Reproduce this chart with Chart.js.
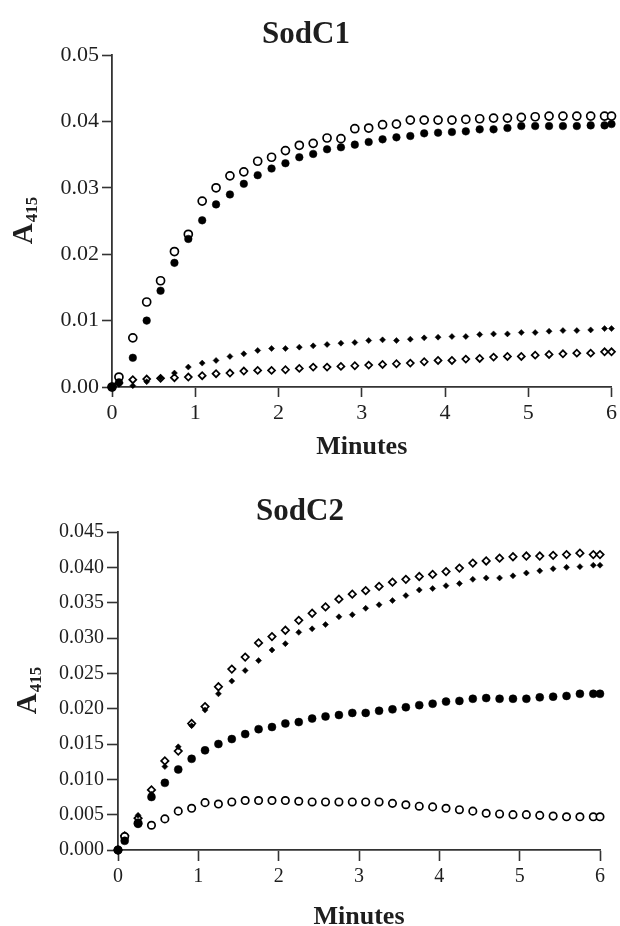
<!DOCTYPE html>
<html>
<head>
<meta charset="utf-8">
<script src="https://cdn.jsdelivr.net/npm/chart.js@4/dist/chart.umd.min.js"></script>
<style>
  html, body { margin: 0; padding: 0; background: #fff; }
  canvas { display: block; }
</style>
</head>
<body>
<canvas id="sodc1" width="620" height="463"></canvas>
<canvas id="sodc2" width="620" height="463"></canvas>
<script>
// ── Data (time in seconds, absorbance at 415 nm) ──────────────────
const timesSec = [0, 5, 15, 25, 35, 45, 55, 65, 75, 85, 95, 105, 115, 125, 135, 145, 155, 165, 175,
  185, 195, 205, 215, 225, 235, 245, 255, 265, 275, 285, 295, 305, 315, 325, 335, 345, 355, 360];

const xTicks   = [0, 1, 2, 3, 4, 5, 6];
const yTicksC1 = [0, 0.01, 0.02, 0.03, 0.04, 0.05];
const yTicksC2 = [0, 0.005, 0.010, 0.015, 0.020, 0.025, 0.030, 0.035, 0.040, 0.045];

// SodC1
const c1OpenCircle = [0, 0.0015, 0.0074, 0.0128, 0.0160, 0.0204, 0.0230, 0.0280, 0.0300, 0.0318, 0.0324,
  0.0340, 0.0346, 0.0356, 0.0364, 0.0367, 0.0375, 0.0374, 0.0389, 0.0390, 0.0395, 0.0396, 0.0402, 0.0402,
  0.0402, 0.0402, 0.0403, 0.0404, 0.0405, 0.0405, 0.0406, 0.0407, 0.0408, 0.0408, 0.0408, 0.0408, 0.0408, 0.0408];
const c1FilledCircle = [0, 0.0007, 0.0044, 0.0100, 0.0145, 0.0187, 0.0223, 0.0251, 0.0275, 0.0290, 0.0306,
  0.0319, 0.0329, 0.0337, 0.0346, 0.0351, 0.0358, 0.0361, 0.0365, 0.0369, 0.0373, 0.0376, 0.0378, 0.0382,
  0.0383, 0.0384, 0.0385, 0.0388, 0.0388, 0.0390, 0.0393, 0.0393, 0.0393, 0.0393, 0.0393, 0.0394, 0.0394, 0.0396];
const c1FilledDiamond = [0, 0.0005, 0.0002, 0.0008, 0.0014, 0.0021, 0.0030, 0.0036, 0.0040, 0.0046, 0.0050,
  0.0055, 0.0058, 0.0058, 0.0060, 0.0062, 0.0064, 0.0066, 0.0067, 0.0070, 0.0071, 0.0070, 0.0072, 0.0074,
  0.0075, 0.0076, 0.0076, 0.0079, 0.0080, 0.0080, 0.0082, 0.0082, 0.0084, 0.0085, 0.0085, 0.0086, 0.0088, 0.0088];
const c1OpenDiamond = [0, 0.0006, 0.0011, 0.0012, 0.0013, 0.0014, 0.0015, 0.0017, 0.0020, 0.0021, 0.0024,
  0.0025, 0.0025, 0.0026, 0.0028, 0.0030, 0.0030, 0.0031, 0.0032, 0.0033, 0.0034, 0.0035, 0.0036, 0.0038,
  0.0040, 0.0040, 0.0042, 0.0043, 0.0045, 0.0046, 0.0046, 0.0048, 0.0049, 0.0050, 0.0051, 0.0051, 0.0053, 0.0053];

// SodC2
const c2OpenDiamond = [0, 0.0020, 0.0045, 0.0085, 0.0126, 0.0140, 0.0179, 0.0203, 0.0231, 0.0256, 0.0273,
  0.0293, 0.0302, 0.0311, 0.0325, 0.0335, 0.0344, 0.0355, 0.0362, 0.0367, 0.0373, 0.0379, 0.0383, 0.0387,
  0.0390, 0.0394, 0.0399, 0.0406, 0.0409, 0.0413, 0.0415, 0.0416, 0.0416, 0.0417, 0.0418, 0.0420, 0.0418, 0.0418];
const c2FilledDiamond = [0, 0.0015, 0.0049, 0.0079, 0.0118, 0.0146, 0.0176, 0.0198, 0.0221, 0.0239, 0.0254,
  0.0268, 0.0283, 0.0292, 0.0308, 0.0313, 0.0319, 0.0330, 0.0333, 0.0342, 0.0347, 0.0353, 0.0360, 0.0368,
  0.0370, 0.0374, 0.0377, 0.0383, 0.0385, 0.0385, 0.0388, 0.0392, 0.0395, 0.0398, 0.0400, 0.0401, 0.0403, 0.0403];
const c2FilledCircle = [0, 0.0013, 0.0037, 0.0075, 0.0095, 0.0114, 0.0129, 0.0141, 0.0150, 0.0157, 0.0164,
  0.0171, 0.0174, 0.0179, 0.0181, 0.0186, 0.0189, 0.0191, 0.0194, 0.0194, 0.0197, 0.0199, 0.0202, 0.0205,
  0.0207, 0.0210, 0.0211, 0.0214, 0.0215, 0.0214, 0.0214, 0.0214, 0.0216, 0.0217, 0.0218, 0.0221, 0.0221, 0.0221];
const c2OpenCircle = [0, 0.0019, 0.0038, 0.0035, 0.0044, 0.0055, 0.0059, 0.0067, 0.0065, 0.0068, 0.0070,
  0.0070, 0.0070, 0.0070, 0.0069, 0.0068, 0.0068, 0.0068, 0.0068, 0.0068, 0.0068, 0.0066, 0.0064, 0.0062,
  0.0061, 0.0059, 0.0057, 0.0055, 0.0052, 0.0051, 0.0050, 0.0050, 0.0049, 0.0048, 0.0047, 0.0047, 0.0047, 0.0047];

// ── Look ──────────────────────────────────────────────────────────
const SERIF = "'Liberation Serif', 'Times New Roman', serif";
const INK   = "#1e1e1e";
const AXIS  = "#333";

Chart.defaults.font.family = SERIF;
Chart.defaults.color = INK;

const minutes = timesSec.map(s => s / 60);

function points(values) {
  return minutes.map((m, i) => ({ x: m, y: values[i] }));
}

function marker(values, style, filled, radius) {
  return {
    data: points(values),
    pointStyle: style,
    pointRadius: radius,
    pointHoverRadius: radius,
    pointBackgroundColor: filled ? "#000" : "#fff",
    pointBorderColor: "#000",
    pointBorderWidth: filled ? 0.5 : 1.7,
    showLine: false,
    clip: false,
  };
}

// ── A415 axis label (A with subscript) ────────────────────────────
const subscriptLabel = {
  id: "subscriptLabel",
  afterDraw(chart, args, opts) {
    const { ctx, chartArea } = chart;
    const cy = (chartArea.top + chartArea.bottom) / 2;
    ctx.save();
    ctx.translate(opts.x, cy);
    ctx.rotate(-Math.PI / 2);
    ctx.fillStyle = INK;
    ctx.textBaseline = "alphabetic";
    ctx.font = `bold ${opts.size}px ${SERIF}`;
    const wA = ctx.measureText("A").width;
    ctx.font = `bold ${opts.subSize}px ${SERIF}`;
    const wSub = ctx.measureText("415").width;
    const start = -(wA + wSub) / 2;
    ctx.font = `bold ${opts.size}px ${SERIF}`;
    ctx.fillText("A", start, opts.size * 0.33);
    ctx.font = `bold ${opts.subSize}px ${SERIF}`;
    ctx.fillText("415", start + wA + 1, opts.size * 0.33 + opts.subDrop);
    ctx.restore();
  }
};

// ── One panel ─────────────────────────────────────────────────────
function panel(id, cfg) {
  new Chart(document.getElementById(id), {
    type: "scatter",
    data: { datasets: cfg.datasets },
    plugins: [subscriptLabel],
    options: {
      responsive: false,
      animation: false,
      events: [],
      layout: { padding: { top: 0, left: 0, right: cfg.right, bottom: 0 } },
      plugins: {
        legend: { display: false },
        tooltip: { enabled: false },
        title: {
          display: true,
          text: cfg.title,
          color: INK,
          font: { size: 31, weight: "bold", family: SERIF, lineHeight: 1 },
          padding: { top: cfg.titleTop, bottom: cfg.titleBottom },
        },
        subscriptLabel: { x: cfg.yLabelX, size: 29, subSize: 17, subDrop: 5 },
      },
      scales: {
        x: {
          type: "linear",
          min: 0, max: 6,
          afterBuildTicks: s => { s.ticks = xTicks.map(v => ({ value: v })); },
          afterFit: s => { s.height = 76; },
          ticks: {
            color: INK,
            font: { size: cfg.tickSize, family: SERIF },
            padding: cfg.xPad,
            maxRotation: 0,
            callback: v => String(v),
          },
          grid: {
            display: true, drawOnChartArea: false, drawTicks: true,
            tickLength: cfg.tickLen, tickWidth: 1.6, tickColor: AXIS,
          },
          border: { display: true, color: AXIS, width: 1.8 },
          title: {
            display: true,
            text: "Minutes",
            color: INK,
            font: { size: 26, weight: "bold", family: SERIF, lineHeight: 0.8 },
            padding: { top: 0, bottom: cfg.minutesPad },
          },
        },
        y: {
          type: "linear",
          min: 0, max: cfg.yMax,
          afterBuildTicks: s => { s.ticks = cfg.yTicks.map(v => ({ value: v })); },
          afterFit: s => { s.width = cfg.left; },
          ticks: {
            color: INK,
            font: { size: cfg.tickSize, family: SERIF },
            padding: 3,
            callback: v => v.toFixed(cfg.decimals),
          },
          grid: {
            display: true, drawOnChartArea: false, drawTicks: true,
            tickLength: cfg.tickLen, tickWidth: 1.6, tickColor: AXIS,
          },
          border: { display: true, color: AXIS, width: 1.8 },
        },
      },
    },
  });
}

panel("sodc1", {
  title: "SodC1",
  titleTop: 19, titleBottom: 5,
  left: 112, right: 8,
  yMax: 0.05, yTicks: yTicksC1, decimals: 2,
  tickSize: 22, tickLen: 10, xPad: 3,
  minutesPad: 5,
  yLabelX: 22,
  datasets: [
    marker(c1FilledCircle,  "circle",  true,  3.8),
    marker(c1OpenCircle,    "circle",  false, 4.0),
    marker(c1FilledDiamond, "rectRot", true,  3.0),
    marker(c1OpenDiamond,   "rectRot", false, 3.5),
  ],
});

panel("sodc2", {
  title: "SodC2",
  titleTop: 33, titleBottom: 5,
  left: 118, right: 20,
  yMax: 0.045, yTicks: yTicksC2, decimals: 3,
  tickSize: 20, tickLen: 11, xPad: 4,
  minutesPad: -2,
  yLabelX: 26,
  datasets: [
    marker(c2FilledCircle,  "circle",  true,  4.0),
    marker(c2OpenCircle,    "circle",  false, 3.7),
    marker(c2FilledDiamond, "rectRot", true,  3.0),
    marker(c2OpenDiamond,   "rectRot", false, 3.7),
  ],
});
</script>
</body>
</html>
